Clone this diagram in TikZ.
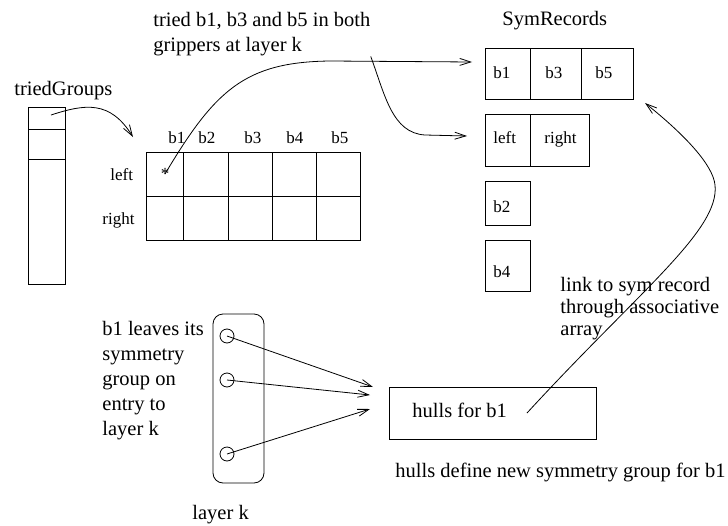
\documentclass[tikz,border=0pt]{standalone}
\usepackage{fontspec}
\setmainfont{Liberation Serif}
\usetikzlibrary{arrows.meta}

\tikzset{
  bigtext/.style={font=\fontsize{20.5}{25}\selectfont, inner sep=0pt},
  smalltext/.style={font=\fontsize{17}{20}\selectfont, inner sep=0pt, anchor=base west},
  cell/.style args={#1/#2}{draw, rectangle, inner sep=0pt, minimum width=#1pt, minimum height=#2pt},
  dot/.style={draw, circle, inner sep=0pt, minimum size=14pt},
  link/.style={->},
}

\begin{document}
\begin{tikzpicture}[x=1pt, y=-1pt, line width=0.8pt,
    >={Straight Barb[length=11pt,width=7pt]}]
  \useasboundingbox (0,0) rectangle (728,525);

  \node[bigtext, anchor=base west] (tg) at (14,95) {triedGroups};
  \node[cell={37/22}] (g1) at (46.5,118) {};
  \node[cell={37/30}] (g2) at (46.5,144) {};
  \node[cell={37/125}] (g3) at (46.5,221.5) {};

  \node[bigtext, anchor=north west, align=left] (tried) at (153,12)
    {tried b1, b3 and b5 in both\\grippers at layer k};

  \node[smalltext] (hb1) at (168,143) {b1};
  \node[smalltext] (hb2) at (198,143) {b2};
  \node[smalltext] (hb3) at (244,143) {b3};
  \node[smalltext] (hb4) at (286,143) {b4};
  \node[smalltext] (hb5) at (331,143) {b5};
  \node[smalltext] (hleft) at (110,180) {left};
  \node[smalltext] (hright) at (102,224) {right};

  \node[cell={37/44}] (l1) at (164.5,174) {};
  \node[cell={45/44}] (l2) at (205.5,174) {};
  \node[cell={44/44}] (l3) at (250,174) {};
  \node[cell={44/44}] (l4) at (294,174) {};
  \node[cell={44/44}] (l5) at (338,174) {};
  \node[cell={37/44}] (r1) at (164.5,218) {};
  \node[cell={45/44}] (r2) at (205.5,218) {};
  \node[cell={44/44}] (r3) at (250,218) {};
  \node[cell={44/44}] (r4) at (294,218) {};
  \node[cell={44/44}] (r5) at (338,218) {};
  \node[smalltext, anchor=center] (star) at (165,174) {*};

  \node[bigtext, anchor=base west] (sym) at (502,25) {SymRecords};
  \node[cell={45/51}] (s1) at (507.5,73.5) {};
  \node[cell={51/51}] (s3) at (555.5,73.5) {};
  \node[cell={52/51}] (s5) at (607,73.5) {};
  \node[cell={45/52}] (sl) at (507.5,140) {};
  \node[cell={59/52}] (sr) at (559.5,140) {};
  \node[cell={45/44}] (s2) at (507.5,203) {};
  \node[cell={45/51}] (s4) at (507.5,265.5) {};
  \node[smalltext] (ts1) at (493,78) {b1};
  \node[smalltext] (ts3) at (545,78) {b3};
  \node[smalltext] (ts5) at (595,78) {b5};
  \node[smalltext] (tsl) at (493,143) {left};
  \node[smalltext] (tsr) at (544,143) {right};
  \node[smalltext] (ts2) at (493,212) {b2};
  \node[smalltext] (ts4) at (493,277) {b4};

  \node[bigtext, anchor=north west, align=left, font=\fontsize{20.5}{22}\selectfont] (assoc) at (560,277)
    {link to sym record\\through associative\\array};

  \node[bigtext, anchor=north west, align=left] (leaves) at (102,321)
    {b1 leaves its\\symmetry\\group on\\entry to\\layer k};
  \node[draw, rounded corners=10pt, inner sep=0pt, minimum width=51pt, minimum height=169pt] (layer) at (238.5,398.5) {};
  \node[dot] (c1) at (227,336) {};
  \node[dot] (c2) at (227,380) {};
  \node[dot] (c3) at (227,454) {};
  \node[bigtext, anchor=base west] (layerk) at (192,519) {layer k};

  \node[cell={207/52}] (hulls) at (492.5,413) {};
  \node[bigtext, anchor=base west] (hullsfor) at (412,417) {hulls for b1};
  \node[bigtext, anchor=base west] (define) at (395,477) {hulls define new symmetry group for b1};

  \coordinate (gstart) at (51,115);
  \coordinate (gridin) at (133,137);
  \coordinate (s1in) at (472,62);
  \coordinate (slin) at (467,136);
  \coordinate (hstart) at (527,413);
  \coordinate (s5in) at (645,103);
  \coordinate (h1) at (373,387);
  \coordinate (h2) at (370,395);
  \coordinate (h3) at (370,409);

  \begin{scope}[link]
    \draw (gstart) .. controls (85,104) and (110,100) .. (gridin);
    \draw (star.center) .. controls (215,90) and (245,62) .. (330,61) -- (s1in);
    \draw (tried.south east) .. controls (385,95) and (392,133) .. (425,135) -- (slin);
    \draw (hstart) .. controls (640,290) and (720,230) .. (715,185)
      .. controls (713,165) and (685,135) .. (s5in);
    \draw (c1.center) -- (h1);
    \draw (c2.center) -- (h2);
    \draw (c3.center) -- (h3);
  \end{scope}
\end{tikzpicture}
\end{document}
